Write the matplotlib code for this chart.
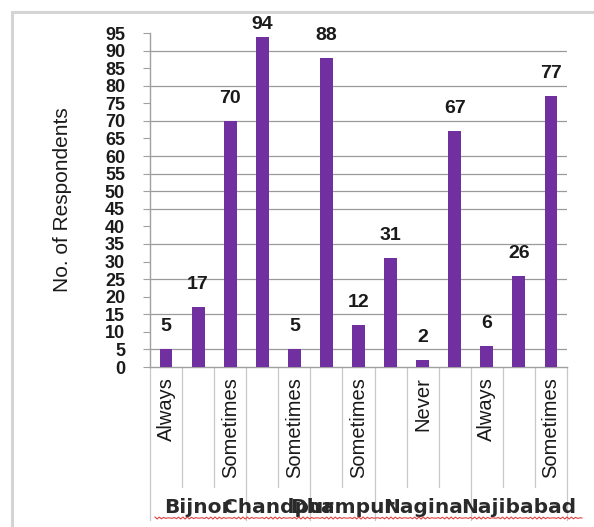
import numpy as np
import matplotlib
matplotlib.use("Agg")
import matplotlib.pyplot as plt
from matplotlib.patches import Rectangle
import matplotlib.transforms as mtransforms

# Survey answers per town
towns = ["Bijnor", "Chandpur", "Dhampur", "Nagina", "Najibabad"]
town_sizes = [3, 2, 2, 3, 3]
responses = ["Always", "", "Sometimes", "", "Sometimes", "", "Sometimes",
             "", "Never", "", "Always", "", "Sometimes"]
respondents = [5, 17, 70, 94, 5, 88, 12, 31, 2, 67, 6, 26, 77]

y_ticks = list(range(0, 100, 5))
grid_levels = [5, 15, 25, 35, 45, 50, 55, 60, 70, 80, 90]

plt.rcParams["font.family"] = ["Liberation Sans", "DejaVu Sans"]

W, H = 594, 527
fig = plt.figure(figsize=(W / 100, H / 100), dpi=100)
fig.patch.set_facecolor("white")
ax = fig.add_axes([150 / W, 1 - 367 / H, (567 - 150) / W, (367 - 33) / H])

x = np.arange(len(respondents))
ymax = 95
ax.set_xlim(-0.5, len(respondents) - 0.5)
ax.set_ylim(0, ymax)

for g in grid_levels:
    ax.axhline(g, color="#9a9a9a", lw=0.9, zorder=1)

bars = ax.bar(x, respondents, width=0.4, color="#7030A0", zorder=3)

# value labels above the bars, kept inside the plot top
gap = 4.0
for xi, v in zip(x, respondents):
    ax.text(xi, min(v + gap, ymax), str(v), ha="center", va="bottom",
            fontsize=14, fontweight="bold", color="#1a1a1a", zorder=4)

for s in ["top", "right"]:
    ax.spines[s].set_visible(False)
for s in ["left", "bottom"]:
    ax.spines[s].set_color("#a0a0a0")
    ax.spines[s].set_linewidth(1.0)

ax.set_yticks(y_ticks)
ax.set_yticklabels([str(t) for t in y_ticks], fontsize=13, fontweight="bold",
                   color="#1a1a1a")
ax.tick_params(axis="y", length=5, color="#a0a0a0", pad=13)

ax.set_xticks(x)
ax.set_xticklabels(responses, rotation=90, fontsize=14.5, color="#1a1a1a",
                   va="top", ha="center")
ax.tick_params(axis="x", length=0, pad=7)

ax.set_ylabel("No. of Respondents", fontsize=15, color="#1a1a1a", va="center")
ax.yaxis.set_label_coords(-0.209, 0.5)

# category separators and town group labels under the axis
trans = mtransforms.blended_transform_factory(ax.transData, ax.transAxes)
bounds = np.concatenate([[0], np.cumsum(town_sizes)]) - 0.5
for k in range(len(respondents) + 1):
    b = k - 0.5
    low = -0.458 if b in bounds else -0.359
    ax.plot([b, b], [0, low], transform=trans, color="#c8c8c8", lw=0.9,
            clip_on=False, zorder=0)

centers = (bounds[:-1] + bounds[1:]) / 2
for c, name in zip(centers, towns):
    ax.text(c, -0.422, name, transform=trans, ha="center", va="center",
            fontsize=14.5, fontweight="bold", color="#2a2a2a",
            family="DejaVu Sans")

# spell-check style squiggle under the town names
sx = np.linspace(155, 582, 200)
sy = 518 + 1.0 * np.sin(sx * 2 * np.pi / 4.0)
fig.add_artist(plt.Line2D(sx / W, 1 - sy / H, transform=fig.transFigure,
                          color="#e04040", lw=0.8))

# chart frame
fig.add_artist(Rectangle((12 / W, -0.2), 1.2, 1.2 - 12 / H,
                         transform=fig.transFigure, fill=False,
                         ec="#d4d4d4", lw=2.2))

fig.savefig("out.png", dpi=100, facecolor="white")
